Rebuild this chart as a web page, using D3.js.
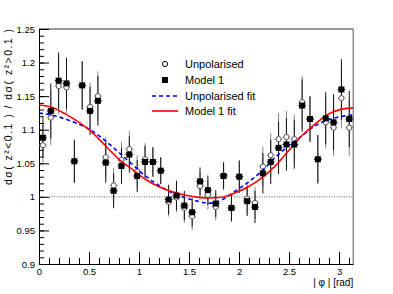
<!DOCTYPE html>
<html>
<head>
<meta charset="utf-8">
<script src="https://cdn.jsdelivr.net/npm/d3@7/dist/d3.min.js"></script>
<style>
  body { margin: 0; background: #fff; }
  text { font-family: "Liberation Sans", Arial, sans-serif; }
</style>
</head>
<body>
<div id="chart"></div>
<script>
// 40 bins in |phi| from 0 to pi
const nBins = 40;
const phiMax = Math.PI;

// ratio per bin
const unpolarised = [1.077, 1.118, 1.165, 1.163, 1.053, 1.166, 1.134, 1.150, 1.059, 1.017,
  1.055, 1.071, 1.038, 1.056, 1.052, 1.039, 0.9925, 0.999, 0.9835, 0.971,
  1.016, 1.003, 0.985, 1.032, 0.9835, 1.030, 0.9975, 0.991, 1.045, 1.062,
  1.086, 1.089, 1.086, 1.141, 1.116, 1.056, 1.111, 1.103, 1.147, 1.103];
const model1 = [1.088, 1.128, 1.173, 1.169, 1.053, 1.166, 1.128, 1.143, 1.051, 1.009,
  1.046, 1.063, 1.031, 1.052, 1.052, 1.039, 0.996, 1.002, 0.987, 0.977,
  1.023, 1.010, 0.990, 1.031, 0.9835, 1.030, 0.9935, 0.985, 1.035, 1.052,
  1.073, 1.078, 1.078, 1.136, 1.116, 1.056, 1.117, 1.111, 1.160, 1.116];
const errors = [0.030, 0.041, 0.042, 0.038, 0.032, 0.036, 0.036, 0.037, 0.030, 0.026,
  0.027, 0.027, 0.024, 0.024, 0.022, 0.020, 0.022, 0.022, 0.022, 0.021,
  0.021, 0.022, 0.020, 0.020, 0.020, 0.024, 0.022, 0.024, 0.030, 0.033,
  0.039, 0.039, 0.036, 0.039, 0.034, 0.036, 0.039, 0.042, 0.045, 0.042];

// fit curves
const fitPhi = [0, 0.133, 0.267, 0.4, 0.533, 0.667, 0.8, 0.933, 1.067, 1.2, 1.333, 1.467, 1.6,
  1.693, 1.827, 1.96, 2.093, 2.227, 2.36, 2.493, 2.627, 2.76, 2.893, 3.027, 3.127, 3.1416];
const unpolFit = [1.1247, 1.1217, 1.1157, 1.1082, 1.0982, 1.0832, 1.0659, 1.0484, 1.0308, 1.0169,
  1.0060, 0.9985, 0.9930, 0.9905, 0.9955, 1.0084, 1.0219, 1.0383, 1.0584, 1.0757,
  1.0907, 1.1057, 1.1147, 1.1198, 1.1217, 1.1220];
const model1Fit = [1.1367, 1.1332, 1.1232, 1.1108, 1.0958, 1.0757, 1.0558, 1.0409, 1.0259, 1.0150,
  1.0075, 1.0024, 0.9992, 0.9982, 0.9994, 1.0060, 1.0150, 1.0284, 1.0458, 1.0683,
  1.0907, 1.1082, 1.1232, 1.1307, 1.1322, 1.1322];

// axis ticks
const xTicks = [0, 0.5, 1, 1.5, 2, 2.5, 3];
const yTicks = [0.9, 0.95, 1, 1.05, 1.1, 1.15, 1.2, 1.25];
const yTickLabels = ['0.9', '0.95', '1', '1.05', '1.1', '1.15', '1.2', '1.25'];

const legendLabels = ['Unpolarised', 'Model 1', 'Unpolarised fit', 'Model 1 fit'];

const width = 393;
const height = 294;
const padL = 39, padR = 353.2, padT = 29, padB = 264;

const svg = d3.select('#chart').append('svg')
  .attr('width', width)
  .attr('height', height);

const x = d3.scaleLinear().domain([0, phiMax]).range([padL, padR]);
const y = d3.scaleLinear().domain([0.9, 1.25]).range([padB, padT]);

const binW = phiMax / nBins;
const bins = d3.range(nBins).map(i => ({
  lo: i * binW,
  hi: (i + 1) * binW,
  c: (i + 0.5) * binW,
  u: unpolarised[i],
  m: model1[i],
  e: errors[i]
}));

// frame
svg.append('line')
  .attr('x1', padL).attr('x2', padR).attr('y1', padT).attr('y2', padT)
  .attr('stroke', '#999').attr('stroke-width', 2);
svg.append('line')
  .attr('x1', padR).attr('x2', padR).attr('y1', padT).attr('y2', padB)
  .attr('stroke', '#555').attr('stroke-width', 1);

// y axis, minor then major
const yMinor = d3.range(90, 126).map(v => v / 100);
svg.append('g')
  .attr('transform', 'translate(' + padL + ',0)')
  .call(d3.axisLeft(y).tickValues(yMinor).tickSize(-5).tickFormat(''))
  .call(g => g.select('.domain').remove());
svg.append('g')
  .attr('transform', 'translate(' + padL + ',0)')
  .call(d3.axisLeft(y).tickValues(yTicks).tickSize(-10).tickSizeOuter(0).tickPadding(4)
    .tickFormat((d, i) => yTickLabels[i]));

// x axis
const xMinor = d3.range(0, 32).map(v => v / 10);
svg.append('g')
  .attr('transform', 'translate(0,' + padB + ')')
  .call(d3.axisBottom(x).tickValues(xMinor).tickSize(-6).tickFormat(''))
  .call(g => g.select('.domain').remove());
svg.append('g')
  .attr('transform', 'translate(0,' + padB + ')')
  .call(d3.axisBottom(x).tickValues(xTicks).tickSize(-12).tickSizeOuter(0).tickPadding(4)
    .tickFormat(d3.format('~g')));

svg.selectAll('.tick line').attr('stroke', '#000');
svg.selectAll('.domain').attr('stroke', '#000');
svg.selectAll('.tick text').attr('font-size', 9.5).attr('fill', '#000')
  .attr('font-family', '"Liberation Sans", Arial, sans-serif');

// dotted line at 1
svg.append('line')
  .attr('x1', padL).attr('x2', padR).attr('y1', y(1)).attr('y2', y(1))
  .attr('stroke', '#444').attr('stroke-width', 0.8).attr('stroke-dasharray', '1,1.5');

// axis titles
svg.append('text')
  .attr('transform', 'translate(12,' + padT + ') rotate(-90)')
  .attr('text-anchor', 'end')
  .attr('font-size', 10.5)
  .attr('textLength', 156)
  .attr('lengthAdjust', 'spacing')
  .text('dσ( z²<0.1 ) / dσ( z²>0.1 )');
svg.append('text')
  .attr('x', padR).attr('y', 286)
  .attr('text-anchor', 'end')
  .attr('font-size', 10)
  .text('| φ | [rad]');

// error bars
function drawErrors(key, colour) {
  const g = svg.append('g').attr('stroke', colour).attr('stroke-width', 1);
  g.selectAll('.ev').data(bins).enter().append('line')
    .attr('x1', d => x(d.c)).attr('x2', d => x(d.c))
    .attr('y1', d => y(d[key] - d.e)).attr('y2', d => y(d[key] + d.e));
  g.selectAll('.eh').data(bins).enter().append('line')
    .attr('x1', d => x(d.lo)).attr('x2', d => x(d.hi))
    .attr('y1', d => y(d[key])).attr('y2', d => y(d[key]));
}
drawErrors('u', '#888');
drawErrors('m', '#111');

// open circles for unpolarised
svg.append('g').selectAll('circle').data(bins).enter().append('circle')
  .attr('cx', d => x(d.c)).attr('cy', d => y(d.u)).attr('r', 2.6)
  .attr('fill', '#fff').attr('stroke', '#555').attr('stroke-width', 1);

// fit curves
const fitLine = d3.line()
  .x(d => x(d[0]))
  .y(d => y(d[1]))
  .curve(d3.curveMonotoneX);
svg.append('path')
  .datum(fitPhi.map((p, i) => [p, unpolFit[i]]))
  .attr('fill', 'none').attr('stroke', '#0000ff').attr('stroke-width', 1.6)
  .attr('stroke-dasharray', '4,3')
  .attr('d', fitLine);
svg.append('path')
  .datum(fitPhi.map((p, i) => [p, model1Fit[i]]))
  .attr('fill', 'none').attr('stroke', '#ff0000').attr('stroke-width', 1.6)
  .attr('d', fitLine);

// black squares for model 1
svg.append('g').selectAll('rect').data(bins).enter().append('rect')
  .attr('x', d => x(d.c) - 3).attr('y', d => y(d.m) - 3)
  .attr('width', 6).attr('height', 6)
  .attr('fill', '#000');

// legend
const lg = svg.append('g');
const rowY = [64, 80, 96, 111];
lg.append('circle').attr('cx', 165).attr('cy', rowY[0]).attr('r', 2.6)
  .attr('fill', '#fff').attr('stroke', '#000');
lg.append('rect').attr('x', 162).attr('y', rowY[1] - 3).attr('width', 6).attr('height', 6)
  .attr('fill', '#000');
lg.append('line').attr('x1', 152).attr('x2', 178).attr('y1', rowY[2]).attr('y2', rowY[2])
  .attr('stroke', '#0000ff').attr('stroke-width', 1.6).attr('stroke-dasharray', '4,3');
lg.append('line').attr('x1', 152).attr('x2', 178).attr('y1', rowY[3]).attr('y2', rowY[3])
  .attr('stroke', '#ff0000').attr('stroke-width', 1.6);
lg.selectAll('text').data(legendLabels).enter().append('text')
  .attr('x', 185).attr('y', (d, i) => rowY[i] + 4)
  .attr('font-size', 11)
  .text(d => d);
</script>
</body>
</html>
